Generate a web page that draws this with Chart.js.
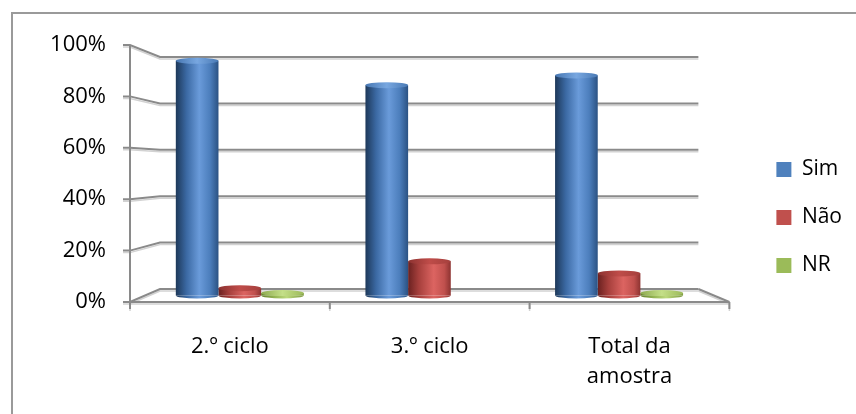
<!DOCTYPE html>
<html>
<head>
<meta charset="utf-8">
<script src="https://cdn.jsdelivr.net/npm/chart.js@4/dist/chart.umd.min.js"></script>
<style>
  html, body { margin: 0; padding: 0; background: #fff; }
  #wrap { position: relative; width: 856px; height: 414px; }
</style>
</head>
<body>
<div id="wrap"><canvas id="graph"></canvas></div>
<script>
const categorias = ['2.º ciclo', '3.º ciclo', ['Total da', 'amostra']];
const sim = [96, 86, 90];
const nao = [3, 14, 9];
const nr = [1, 0, 1];
const marcasY = [0, 20, 40, 60, 80, 100];

// cores de cada série: cor plana (legenda), corpo do cilindro e tampa
const estilos = [
  { cor: '#4F81BD',
    corpo: [[0, '#1d3859'], [0.25, '#3b69a3'], [0.55, '#6a9bda'], [0.8, '#4c7ebc'], [1, '#2b5283']],
    tampa: [[0, '#4777b2'], [0.5, '#78a7e0'], [1, '#4a7ab5']] },
  { cor: '#C0504D',
    corpo: [[0, '#6a2120'], [0.25, '#a63f3c'], [0.6, '#dc6461'], [0.85, '#c0504d'], [1, '#8d3331']],
    tampa: [[0, '#8c3230'], [0.5, '#bf4c49'], [1, '#a5403d']] },
  { cor: '#9BBB59',
    corpo: [[0, '#66812f'], [0.3, '#93b352'], [0.6, '#bcd97c'], [1, '#809d44']],
    tampa: [[0, '#8daa4e'], [0.5, '#c4df88'], [1, '#9cba59']] }
];

const fonte = '"Open Sans", Lato, sans-serif';

function gradiente(ctx, x0, x1, stops) {
  const g = ctx.createLinearGradient(x0, 0, x1, 0);
  stops.forEach(([p, c]) => g.addColorStop(p, c));
  return g;
}

// plano da frente (eixos) e plano do fundo (paredes) da vista 3D
function planos(chart) {
  const { x, y } = chart.scales;
  const f = { l: x.left, r: x.right, t: y.top, b: y.bottom };
  const k = { l: f.l + 30, r: f.r - 31, t: f.t + 12, b: f.b - 13 };
  return { f, k };
}

function traco(ctx, pts) {
  ctx.save();
  ctx.lineJoin = 'miter';
  [[2, '#d2d2d2', 1.5], [0, '#8a8a8a', 2]].forEach(([dy, cor, w]) => {
    ctx.beginPath();
    pts.forEach(([px, py], i) => i ? ctx.lineTo(px, py + dy) : ctx.moveTo(px, py + dy));
    ctx.strokeStyle = cor;
    ctx.lineWidth = w;
    ctx.stroke();
  });
  ctx.restore();
}

const vista3d = {
  id: 'vista3d',
  afterLayout(chart) {
    // as barras ficam a meio da profundidade do chão
    const { f, k } = planos(chart);
    const { xBar, yBar } = chart.scales;
    xBar.left = (f.l + k.l) / 2;
    xBar.right = (f.r + k.r) / 2;
    yBar.top = (f.t + k.t) / 2;
    yBar.bottom = (f.b + k.b) / 2;
    xBar.configure();
    yBar.configure();
  },
  beforeDraw(chart) {
    const ctx = chart.ctx;
    ctx.save();
    ctx.strokeStyle = '#9a9a9a';
    ctx.lineWidth = 2;
    ctx.beginPath();
    ctx.moveTo(12, chart.height);
    ctx.lineTo(12, 13);
    ctx.lineTo(chart.width, 13);
    ctx.stroke();
    ctx.restore();
  },
  beforeDatasetsDraw(chart) {
    const ctx = chart.ctx;
    const { f, k } = planos(chart);
    const y = chart.scales.y;
    const fundoY = v => k.b - (k.b - k.t) * v / 100;

    marcasY.forEach(v => {
      const fy = y.getPixelForValue(v), by = fundoY(v);
      traco(ctx, [[f.l - 7, fy], [f.l, fy], [k.l, by], [k.r, by]]);
    });
    traco(ctx, [[k.r, fundoY(0)], [f.r, f.b]]);
    traco(ctx, [[f.l, f.t], [f.l, f.b]]);
    traco(ctx, [[f.l, f.b], [f.r, f.b]]);
    for (let i = 0; i <= categorias.length; i++) {
      const px = f.l + (f.r - f.l) * i / categorias.length;
      traco(ctx, [[px, f.b], [px, f.b + 7]]);
    }

    // corpo dos cilindros com sombreado horizontal
    chart.data.datasets.forEach((ds, di) => {
      chart.getDatasetMeta(di).data.forEach(el => {
        const { x, width } = el.getProps(['x', 'width'], true);
        const g = gradiente(ctx, x - width / 2, x + width / 2, estilos[di].corpo);
        el.options = Object.assign({}, el.options, { backgroundColor: g });
      });
    });
  },
  afterDatasetsDraw(chart) {
    const ctx = chart.ctx;
    const ry = 3;
    chart.data.datasets.forEach((ds, di) => {
      chart.getDatasetMeta(di).data.forEach((el, i) => {
        if (!ds.data[i]) return;
        const { x, y, base, width } = el.getProps(['x', 'y', 'base', 'width'], true);
        const rx = width / 2;
        ctx.save();
        // fundo arredondado
        ctx.beginPath();
        ctx.ellipse(x, base, rx, ry, 0, 0, Math.PI);
        ctx.fillStyle = gradiente(ctx, x - rx, x + rx, estilos[di].corpo);
        ctx.fill();
        // tampa
        ctx.beginPath();
        ctx.ellipse(x, y, rx, ry, 0, 0, Math.PI * 2);
        ctx.fillStyle = gradiente(ctx, x - rx, x + rx, estilos[di].tampa);
        ctx.fill();
        ctx.restore();
      });
    });
  }
};

const series = [['Sim', sim], ['Não', nao], ['NR', nr]];

new Chart(document.getElementById('graph'), {
  type: 'bar',
  data: {
    labels: categorias,
    datasets: series.map(([nome, valores], i) => ({
      label: nome,
      data: valores,
      xAxisID: 'xBar',
      yAxisID: 'yBar',
      backgroundColor: estilos[i].cor,
      borderWidth: 0,
      categoryPercentage: 0.675,
      barPercentage: 1,
      clip: false
    }))
  },
  options: {
    responsive: true,
    maintainAspectRatio: false,
    animation: false,
    events: [],
    layout: { padding: { left: 0, right: 4, top: 45, bottom: 24 } },
    plugins: {
      tooltip: { enabled: false },
      legend: {
        position: 'right',
        labels: {
          boxWidth: 15,
          boxHeight: 15,
          padding: 27,
          color: '#000',
          font: { family: fonte, size: 21 }
        }
      }
    },
    scales: {
      x: {
        type: 'category',
        position: 'bottom',
        offset: true,
        grid: { display: false, drawTicks: false },
        border: { display: false },
        ticks: { color: '#000', padding: 29, maxRotation: 0, font: { family: fonte, size: 22, lineHeight: 1.4 } },
        afterFit: s => { s.height = 88; }
      },
      y: {
        type: 'linear',
        position: 'left',
        min: 0,
        max: 100,
        grid: { display: false, drawTicks: false },
        border: { display: false },
        ticks: {
          stepSize: 20,
          padding: 24,
          color: '#000',
          font: { family: fonte, size: 22 },
          callback: v => v + '%'
        },
        afterFit: s => { s.width = 130; }
      },
      xBar: {
        type: 'category',
        position: 'bottom',
        offset: true,
        display: false
      },
      yBar: {
        type: 'linear',
        position: 'right',
        min: 0,
        max: 100,
        display: true,
        grid: { display: false, drawTicks: false },
        border: { display: false },
        ticks: { display: false },
        afterFit: s => { s.width = 20; }
      }
    }
  },
  plugins: [vista3d]
});
</script>
</body>
</html>
